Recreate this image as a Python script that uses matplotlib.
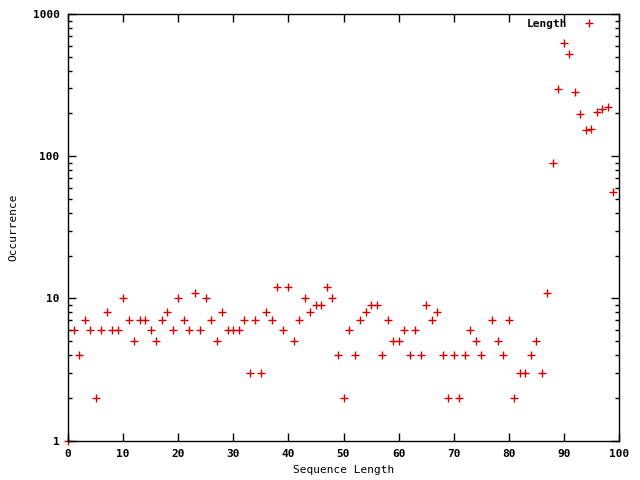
import matplotlib
matplotlib.use("Agg")
import matplotlib.pyplot as plt
from matplotlib.ticker import LogLocator, NullFormatter, FixedLocator

# sequence length (76 has no point)
lengths = list(range(0, 76)) + list(range(77, 100))
occurrence = [1, 6, 4, 7, 6, 2, 6, 8, 6, 6,
              10, 7, 5, 7, 7, 6, 5, 7, 8, 6,
              10, 7, 6, 11, 6, 10, 7, 5, 8, 6,
              6, 6, 7, 3, 7, 3, 8, 7, 12, 6,
              12, 5, 7, 10, 8, 9, 9, 12, 10, 4,
              2, 6, 4, 7, 8, 9, 9, 4, 7, 5,
              5, 6, 4, 6, 4, 9, 7, 8, 4, 2,
              4, 2, 4, 6, 5, 4,
              7, 5, 4, 7, 2, 3, 3, 4, 5, 3,
              11, 90, 296, 623, 524, 282, 197, 152, 155, 203,
              215, 222, 56]
x_ticks = [0, 10, 20, 30, 40, 50, 60, 70, 80, 90, 100]
y_ticks = [1, 10, 100, 1000]

plt.rcParams['font.family'] = 'DejaVu Sans Mono'
plt.rcParams['font.weight'] = 'bold'
plt.rcParams['font.size'] = 8

fig = plt.figure(figsize=(6.4, 4.8), dpi=100)
ax = fig.add_axes([68 / 640, 1 - 440.7 / 480, (619 - 68) / 640, (440.7 - 14) / 480])

ax.plot(lengths, occurrence, linestyle='none', marker='+', markersize=6,
        markeredgewidth=1.0, color='#d40000', label='Length', clip_on=False)

ax.set_yscale('log')
ax.set_xlim(0, 100)
ax.set_ylim(1, 1000)
ax.xaxis.set_major_locator(FixedLocator(x_ticks))
ax.set_xticklabels([str(t) for t in x_ticks])
ax.yaxis.set_major_locator(FixedLocator(y_ticks))
ax.set_yticklabels([str(t) for t in y_ticks])
ax.yaxis.set_minor_locator(LogLocator(base=10, subs=range(2, 10)))
ax.yaxis.set_minor_formatter(NullFormatter())

ax.tick_params(which='both', direction='in', top=True, right=True, width=1, color='black')
ax.tick_params(which='major', length=6, pad=6)
ax.tick_params(which='minor', length=3)
for s in ax.spines.values():
    s.set_linewidth(1)

ax.set_xlabel('Sequence Length', labelpad=4)
ax.set_ylabel('Occurrence', labelpad=10)

# gnuplot style key: text first, sample to the right
ax.legend(loc='upper right', bbox_to_anchor=(1 - 14 / 551, 1 + 3 / 427),
          frameon=False, markerfirst=False, handlelength=1.5,
          handletextpad=1.2, borderaxespad=0.3, fontsize=8)

fig.savefig('out.png', dpi=100)
